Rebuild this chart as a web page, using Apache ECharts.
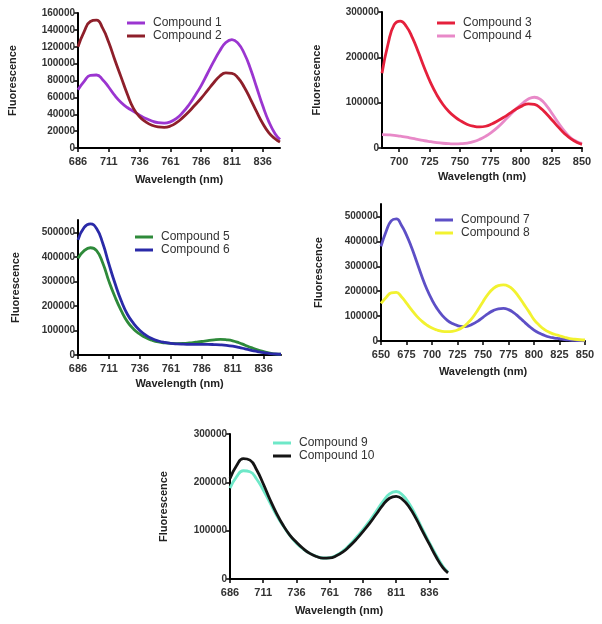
<!DOCTYPE html>
<html><head><meta charset="utf-8">
<script src="https://cdn.jsdelivr.net/npm/echarts@6/dist/echarts.min.js"></script>
<style>html,body{margin:0;padding:0;background:#fff}#c{width:602px;height:624px}</style>
</head><body><div id="c"></div>
<script>
// Wavelength grids (nm)
var wlA = [686,691,696,701,706,711,716,721,726,731,736,741,746,751,756,761,766,771,776,781,786,791,796,801,806,811,816,821,826,831,836,841,846,850];
var wlB = [650,655,660,665,670,675,680,685,690,695,700,705,710,715,720,725,730,735,740,745,750,755,760,765,770,775,780,785,790,795,800,805,810,815,820,825,830,835,840,845,850];

// Tick labels
var xTicksA = [686,711,736,761,786,811,836];
var xTicksB = [700,725,750,775,800,825,850];
var xTicksC = [650,675,700,725,750,775,800,825,850];
var yTicks1 = [0,20000,40000,60000,80000,100000,120000,140000,160000];
var yTicks2 = [0,100000,200000,300000];
var yTicks3 = [0,100000,200000,300000,400000,500000];

// Series values
var compound1 = [69000,79000,86000,86500,81000,72000,62000,54000,48000,43500,39000,35000,32000,30000,29500,31000,35000,42000,51000,62000,74000,88000,102000,115000,125000,128500,124000,112000,94000,72000,50000,31000,17000,10000];
var compound2 = [120000,138000,150000,151500,142000,125000,104000,84000,64000,47000,37000,31000,27000,25000,24500,26000,30000,36000,43000,51000,59000,68000,77000,85000,89000,88500,83000,72000,58000,43000,29000,18000,11000,7000];
var compound3 = [165000,230000,272000,280000,268000,243000,210000,175000,143000,117000,96000,80000,68000,59000,52000,48000,46500,48000,53000,60000,68000,77000,86000,93000,97500,96000,88000,75000,60000,45000,31000,20000,12000,8000];
var compound4 = [29500,29000,28000,26000,24000,21000,18500,16000,14000,12000,10500,9500,9000,9500,11000,14000,19000,26000,35000,46000,59000,73000,86000,98000,108000,112000,107000,93000,74000,54000,36000,22000,14000,10000];
var compound5 = [394000,425000,437000,425000,375000,300000,235000,180000,135000,105000,85000,70000,60000,53000,49000,47000,46500,47000,49000,52000,55000,59000,62000,63500,62000,58000,50000,40000,30000,21000,14000,8000,4000,3000];
var compound6 = [469000,520000,534000,515000,455000,370000,290000,220000,165000,128000,100000,80000,66000,57000,51000,47000,45000,44000,43500,43000,43000,43000,42500,41500,39500,36000,31000,25000,19000,14000,9500,6000,4000,3000];
var compound7 = [380000,440000,482000,490000,465000,425000,375000,318000,260000,208000,165000,130000,103000,83000,70000,62000,58000,60000,68000,80000,95000,110000,122000,129000,131000,126000,114000,97000,78000,60000,44000,32000,23000,16000,12000,9000,6000,4000,2500,1500,1000];
var compound8 = [151000,175000,193000,195000,178000,152000,125000,100000,80000,64000,52000,44000,39000,37500,39000,44000,55000,72000,95000,125000,158000,188000,210000,222000,225000,220000,204000,178000,148000,118000,86000,64000,47000,35000,27000,21000,15000,10000,7000,5000,4000];
var compound9 = [188000,212000,224000,222000,207000,184000,158000,132000,110000,90000,74000,62000,53000,47000,43500,44000,49000,58000,71000,86000,102000,120000,140000,160000,176000,181000,173000,155000,130000,102000,75000,50000,27000,14000];
var compound10 = [208000,235000,249000,246000,226000,197000,165000,136000,111000,91000,76000,63000,53000,46500,43000,43500,48000,56000,68000,82000,98000,115000,134000,153000,167000,171000,164000,148000,125000,98000,72000,46000,24000,12500];

var FONT = 'Liberation Sans, Arial, Helvetica, sans-serif';

function zip(xs, ys){ return xs.map(function(x,i){ return [x, ys[i]]; }); }

var grids = [
  {left:78, top:13, width:202, height:135},
  {left:382, top:12, width:200, height:136},
  {left:78, top:220, width:203, height:135},
  {left:381, top:204, width:204, height:137},
  {left:230, top:434, width:218, height:145}
];

function xAxis(gi, min, max, ticks, gap){
  return {type:'value', gridIndex:gi, min:min, max:max,
    name:'Wavelength (nm)', nameLocation:'middle', nameGap:gap,
    nameTextStyle:{fontFamily:FONT, fontSize:11, fontWeight:'bold', color:'#222'},
    axisLine:{show:true, onZero:false, lineStyle:{color:'#000', width:2}},
    axisTick:{show:true, length:4, customValues:ticks, lineStyle:{color:'#000', width:1.5}},
    axisLabel:{customValues:ticks, fontFamily:FONT, fontSize:11, fontWeight:'bold', color:'#333', margin:8},
    splitLine:{show:false}};
}
function yAxis(gi, max, ticks, gap){
  return {type:'value', gridIndex:gi, min:0, max:max,
    name:'Fluorescence', nameLocation:'middle', nameGap:gap, nameRotate:90,
    nameTextStyle:{fontFamily:FONT, fontSize:11, fontWeight:'bold', color:'#222'},
    axisLine:{show:true, lineStyle:{color:'#000', width:2}},
    axisTick:{show:true, length:4, customValues:ticks, lineStyle:{color:'#000', width:1.5}},
    axisLabel:{customValues:ticks, formatter:function(v){return String(v);}, fontFamily:FONT, fontSize:10, fontWeight:'bold', color:'#333', margin:3},
    splitLine:{show:false}};
}
function legend(names, left, top){
  return {data:names, orient:'vertical', left:left, top:top, icon:'rect', padding:0,
    itemWidth:18, itemHeight:3, itemGap:1,
    textStyle:{fontFamily:FONT, fontSize:12, color:'#333', padding:[0,0,0,3]}};
}
function line(name, gi, xs, ys, color){
  return {type:'line', name:name, xAxisIndex:gi, yAxisIndex:gi, data:zip(xs, ys),
    smooth:true, showSymbol:false, symbol:'none', color:color,
    lineStyle:{width:2.8, color:color}};
}

var option = {
  animation:false,
  backgroundColor:'#fff',
  grid:grids,
  xAxis:[
    xAxis(0,686,850,xTicksA,26),
    xAxis(1,686,850,xTicksB,23),
    xAxis(2,686,850,xTicksA,23),
    xAxis(3,650,850,xTicksC,25),
    xAxis(4,686,850,xTicksA,26)
  ],
  yAxis:[
    yAxis(0,160000,yTicks1,60),
    yAxis(1,300000,yTicks2,60),
    yAxis(2,550000,yTicks3,57),
    yAxis(3,550000,yTicks3,57),
    yAxis(4,300000,yTicks2,61)
  ],
  legend:[
    legend(['Compound 1','Compound 2'],127,17),
    legend(['Compound 3','Compound 4'],437,17),
    legend(['Compound 5','Compound 6'],135,231),
    legend(['Compound 7','Compound 8'],435,214),
    legend(['Compound 9','Compound 10'],273,437)
  ],
  series:[
    line('Compound 1',0,wlA,compound1,'#9b35d0'),
    line('Compound 2',0,wlA,compound2,'#8e1f2a'),
    line('Compound 4',1,wlA,compound4,'#e889c8'),
    line('Compound 3',1,wlA,compound3,'#e5203c'),
    line('Compound 5',2,wlA,compound5,'#2e8a3a'),
    line('Compound 6',2,wlA,compound6,'#2a2aa8'),
    line('Compound 7',3,wlB,compound7,'#5d4fc6'),
    line('Compound 8',3,wlB,compound8,'#f2f230'),
    line('Compound 9',4,wlA,compound9,'#6ee8c8'),
    line('Compound 10',4,wlA,compound10,'#151515')
  ]
};
var chart = echarts.init(document.getElementById('c'), null, {renderer:'canvas'});
chart.setOption(option);
</script></body></html>
